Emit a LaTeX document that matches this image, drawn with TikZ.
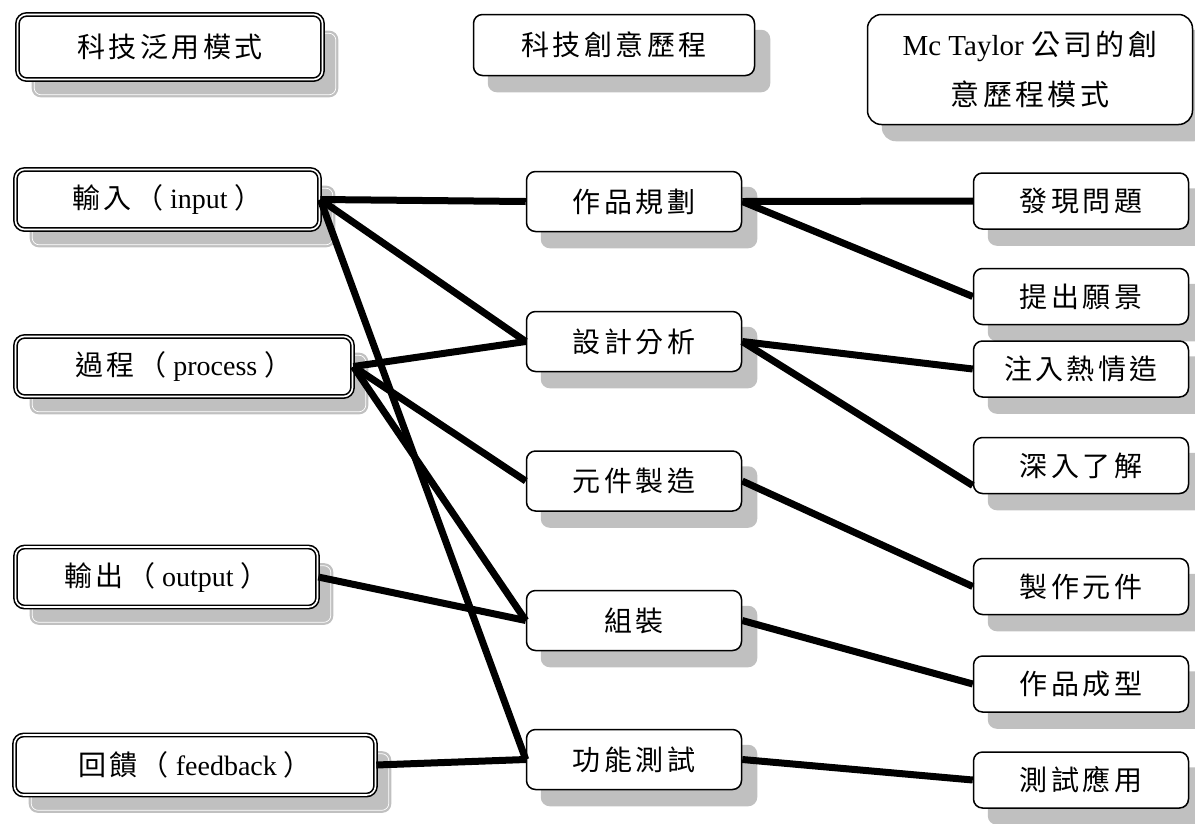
\documentclass[tikz,border=0pt]{standalone}
\usepackage{fontspec}
\setmainfont{Liberation Serif}
\newfontfamily\cjk[LetterSpace=12]{Noto Sans CJK TC}
\newcommand{\zh}[1]{{\cjk #1}}
\usetikzlibrary{calc,backgrounds}
\definecolor{shadowgray}{RGB}{192,192,192}
\begin{document}
\begin{tikzpicture}[x=1pt,y=-1pt,
  lbox/.style={draw, line width=1.6pt, double=white, double distance=1.6pt, rounded corners=9pt, fill=white,
    font=\fontsize{28}{34}\selectfont, inner sep=0pt, minimum height=60pt},
  mbox/.style={draw, line width=1.5pt, rounded corners=9pt, fill=white,
    font=\fontsize{28}{34}\selectfont, inner sep=0pt, minimum height=60pt},
  conn/.style={line width=7pt},
  shad/.style={fill=shadowgray, rounded corners=9pt},
  shadline/.style={draw=white, line width=0.7pt, rounded corners=7pt},
]
\useasboundingbox (0,0) rectangle (1195,823);
% headers
\node[lbox, minimum width=305pt, minimum height=65pt] (h1) at (170,47) {\zh{科技泛用模式}};
\node[mbox, minimum width=281pt, minimum height=61pt] (h2) at (614,45) {\zh{科技創意歷程}};
\node[mbox, minimum width=325pt, minimum height=110pt, rounded corners=14pt, align=center,
  font=\fontsize{29}{50}\selectfont] (h3) at (1030,69.5) {Mc Taylor \zh{公司的創}\\\zh{意歷程模式}};
% left column
\node[lbox, minimum width=304pt] (in) at (167.5,199.5) {\zh{輸入（} input \zh{）}};
\node[lbox, minimum width=337pt] (proc) at (184,366.5) {\zh{過程（} process \zh{）}};
\node[lbox, minimum width=302pt] (out) at (166.5,577) {\zh{輸出（} output \zh{）}};
\node[lbox, minimum width=361pt] (fb) at (195,765) {\zh{回饋（} feedback \zh{）}};
% middle column
\node[mbox, minimum width=215pt] (m1) at (634,201.5) {\zh{作品規劃}};
\node[mbox, minimum width=215pt] (m2) at (634,341.5) {\zh{設計分析}};
\node[mbox, minimum width=215pt] (m3) at (634,481) {\zh{元件製造}};
\node[mbox, minimum width=215pt] (m4) at (634,620.5) {\zh{組裝}};
\node[mbox, minimum width=215pt] (m5) at (634,759.5) {\zh{功能測試}};
% right column
\node[mbox, minimum width=215pt, minimum height=56pt] (r1) at (1081,201) {\zh{發現問題}};
\node[mbox, minimum width=215pt, minimum height=56pt] (r2) at (1081,296.5) {\zh{提出願景}};
\node[mbox, minimum width=215pt, minimum height=56pt] (r3) at (1081,369) {\zh{注入熱情造}};
\node[mbox, minimum width=215pt, minimum height=56pt] (r4) at (1081,465.5) {\zh{深入了解}};
\node[mbox, minimum width=215pt, minimum height=56pt] (r5) at (1081,586.5) {\zh{製作元件}};
\node[mbox, minimum width=215pt, minimum height=56pt] (r6) at (1081,684) {\zh{作品成型}};
\node[mbox, minimum width=215pt, minimum height=56pt] (r7) at (1081,780) {\zh{測試應用}};
% shadows
\begin{scope}[on background layer]
  \foreach \n in {h1,in,proc,out,fb}{
    \fill[shad] ($(\n.north west)+(15,17)$) rectangle ($(\n.south east)+(15,17)$);
    \draw[shadline] ($(\n.north west)+(17.5,19.5)$) rectangle ($(\n.south east)+(12.5,14.5)$);
  }
  \foreach \n in {h2,m1,m2,m3,m4,m5,r1,r2,r3,r4,r5,r6,r7}{
    \fill[shad] ($(\n.north west)+(15,16)$) rectangle ($(\n.south east)+(15,16)$);
  }
  \fill[shad, rounded corners=14pt] ($(h3.north west)+(15,16)$) rectangle ($(h3.south east)+(15,16)$);
\end{scope}
% connectors
\draw[conn] (in.east) -- (m1.west);
\draw[conn] (in.east) -- (m2.west);
\draw[conn] (in.east) -- (m5.west);
\draw[conn] (proc.east) -- (m2.west);
\draw[conn] (proc.east) -- (m3.west);
\draw[conn] (proc.east) -- (m4.west);
\draw[conn] (out.east) -- (m4.west);
\draw[conn] (fb.east) -- (m5.west);
\draw[conn] (m1.east) -- (r1.west);
\draw[conn] (m1.east) -- (r2.west);
\draw[conn] (m2.east) -- (r3.west);
\draw[conn] (m2.east) -- ($(r4.west)+(0,20)$);
\draw[conn] (m3.east) -- (r5.west);
\draw[conn] (m4.east) -- (r6.west);
\draw[conn] (m5.east) -- (r7.west);
\end{tikzpicture}
\end{document}
